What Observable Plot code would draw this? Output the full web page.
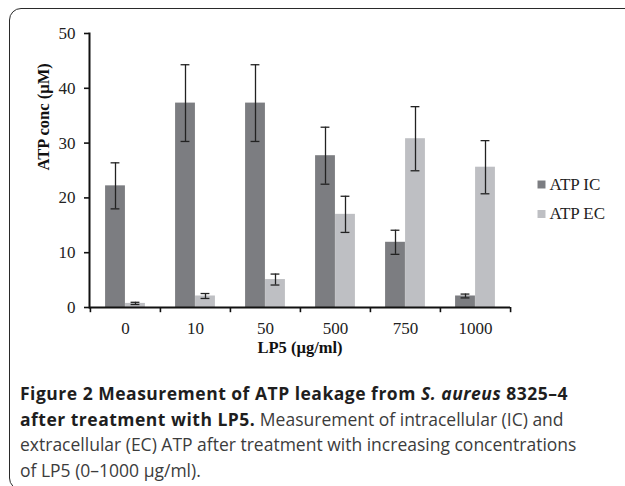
<!DOCTYPE html>
<html><head><meta charset="utf-8">
<script src="https://cdn.jsdelivr.net/npm/d3@7"></script>
<script src="https://cdn.jsdelivr.net/npm/@observablehq/plot@0.6"></script>
<style>
body{margin:0;background:#fff;overflow:hidden;width:625px;height:486px;position:relative;}
#box{position:absolute;left:9px;top:8px;width:700px;height:480px;border:1.5px solid #2a2a2a;border-radius:12px;}
#chart{position:absolute;left:0;top:0;}
#caption{position:absolute;left:20px;top:381px;font-family:"Open Sans";font-size:17.5px;line-height:25.5px;color:#3c3c3c;white-space:nowrap;}
#caption b{color:#1e1e1e;letter-spacing:0.5px;}
</style></head><body>
<div id="box"></div>
<div id="chart"></div>
<div id="caption"></div>
<script>
const categories = ["0", "10", "50", "500", "750", "1000"];
const series = ["ATP IC", "ATP EC"];
const icValues = [22.2, 37.3, 37.3, 27.7, 11.9, 2.1];
const icErrors = [4.2, 7.0, 7.0, 5.2, 2.2, 0.35];
const ecValues = [0.75, 2.1, 5.1, 17.0, 30.8, 25.6];
const ecErrors = [0.2, 0.45, 1.0, 3.3, 5.85, 4.85];
const yTicks = [0, 10, 20, 30, 40, 50];
const colors = ["#7c7d81", "#bebfc3"];
const xLabel = "LP5 (µg/ml)";
const yLabel = "ATP conc (µM)";

const rows = [];
categories.forEach((c, i) => {
  rows.push({cat: c, series: series[0], value: icValues[i], err: icErrors[i]});
  rows.push({cat: c, series: series[1], value: ecValues[i], err: ecErrors[i]});
});
const ic = rows.filter(d => d.series === series[0]);
const ec = rows.filter(d => d.series === series[1]);

const W = 625, ML = 89, MR = 115;
const step = (W - ML - MR) / categories.length;
const half = step / 2;
const barW = 20, capW = 9;
// inset helpers relative to band center
const ins = (off, w) => ({insetLeft: half + off - w / 2, insetRight: half - off - w / 2});

const chart = Plot.plot({
  width: W,
  height: 360,
  marginLeft: ML,
  marginRight: MR,
  marginTop: 33,
  marginBottom: 53,
  style: {fontFamily: "Liberation Serif", fontSize: "17px", color: "#222", background: "transparent"},
  x: {domain: categories, padding: 0, label: null},
  y: {domain: [0, 50], label: null},
  color: {domain: series, range: colors},
  marks: [
    Plot.barY(ic, {x: "cat", y: "value", fill: colors[0], ...ins(-barW / 2, barW)}),
    Plot.barY(ec, {x: "cat", y: "value", fill: colors[1], ...ins(barW / 2, barW)}),
    Plot.ruleX(ic, {x: "cat", y1: d => d.value - d.err, y2: d => d.value + d.err, dx: -barW / 2, stroke: "#222", strokeWidth: 1.3}),
    Plot.ruleX(ec, {x: "cat", y1: d => d.value - d.err, y2: d => d.value + d.err, dx: barW / 2, stroke: "#222", strokeWidth: 1.3}),
    Plot.tickY(ic, {x: "cat", y: d => d.value + d.err, stroke: "#222", strokeWidth: 1.3, ...ins(-barW / 2, capW)}),
    Plot.tickY(ic, {x: "cat", y: d => d.value - d.err, stroke: "#222", strokeWidth: 1.3, ...ins(-barW / 2, capW)}),
    Plot.tickY(ec, {x: "cat", y: d => d.value + d.err, stroke: "#222", strokeWidth: 1.3, ...ins(barW / 2, capW)}),
    Plot.tickY(ec, {x: "cat", y: d => d.value - d.err, stroke: "#222", strokeWidth: 1.3, ...ins(barW / 2, capW)}),
    Plot.axisY({ticks: yTicks, tickSize: 5, tickPadding: 9, stroke: "#111", strokeWidth: 1.6, fontSize: 17, label: null}),
    Plot.frame({anchor: "left", stroke: "#111", strokeWidth: 2}),
    Plot.axisX({tickSize: 0, tickPadding: 14, fontSize: 17, label: null}),
    Plot.ruleY([0], {stroke: "#111", strokeWidth: 2}),
    Plot.ruleX(categories, {x: d => d, y1: 0, y2: -0.95, dx: -half, stroke: "#111", strokeWidth: 1.6}),
    Plot.ruleX(categories.slice(-1), {x: d => d, y1: 0, y2: -0.95, dx: half, stroke: "#111", strokeWidth: 1.6}),
    Plot.text([xLabel], {frameAnchor: "bottom", dy: 45, text: d => d, fontWeight: "bold", fontSize: 16.5, fill: "#111"}),
    Plot.text([yLabel], {frameAnchor: "left", dx: -46, rotate: -90, text: d => d, fontWeight: "bold", fontSize: 16.5, fill: "#111"}),
    ...series.map((s, i) => Plot.dot([s], {frameAnchor: "right", dx: 31, dy: 14 + i * 29.5, fill: d => d, symbol: "square", r: 4.5})),
    ...series.map((s, i) => Plot.text([s], {frameAnchor: "right", dx: 39, dy: 14 + i * 29.5, text: d => d, textAnchor: "start", fontSize: 17, fill: "#222"}))
  ]
});
document.getElementById("chart").appendChild(chart);

document.getElementById("caption").innerHTML =
  "<b>Figure 2 Measurement of ATP leakage from <i>S. aureus</i> 8325–4</b><br>" +
  "<b>after treatment with LP5.</b> Measurement of intracellular (IC) and<br>" +
  "extracellular (EC) ATP after treatment with increasing concentrations<br>" +
  "of LP5 (0–1000 µg/ml).";
</script>
</body></html>
